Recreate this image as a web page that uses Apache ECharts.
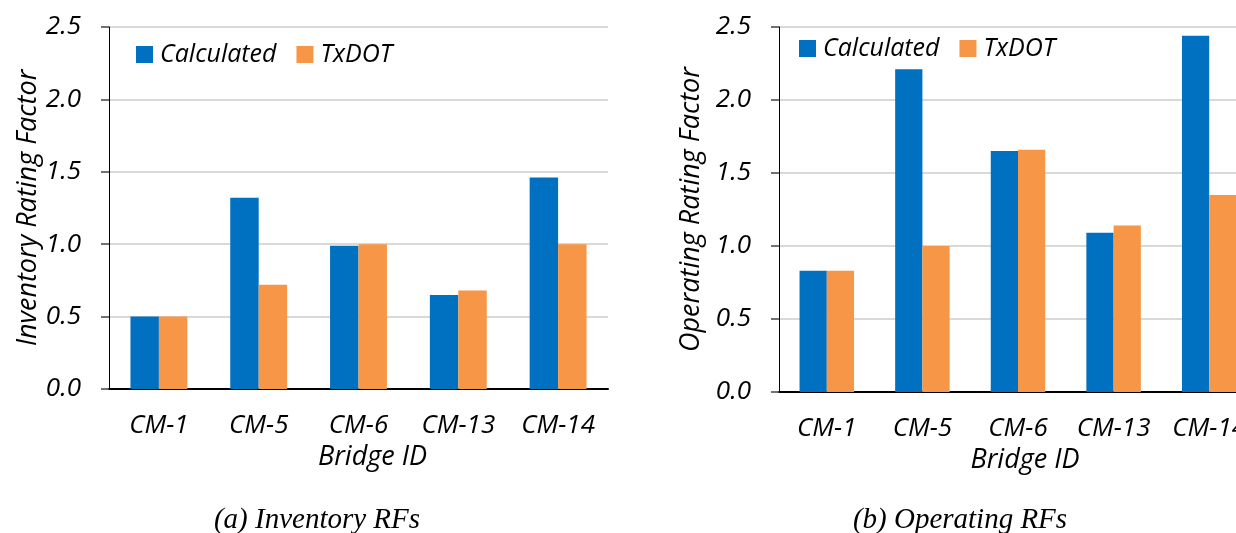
<!DOCTYPE html>
<html><head><meta charset="utf-8">
<script src="https://cdn.jsdelivr.net/npm/echarts@6/dist/echarts.min.js"></script>
<style>html,body{margin:0;padding:0;background:#fff}#c{width:1236px;height:533px}</style>
</head><body><div id="c"></div>
<script>
const categories = ['CM-1','CM-5','CM-6','CM-13','CM-14'];
const inventoryCalculated = [0.50, 1.32, 0.99, 0.65, 1.46];
const inventoryTxDOT      = [0.50, 0.72, 1.00, 0.68, 1.00];
const operatingCalculated = [0.83, 2.21, 1.65, 1.09, 2.44];
const operatingTxDOT      = [0.83, 1.00, 1.66, 1.14, 1.35];

const BLUE = '#0070C0', ORANGE = '#F79646';
const FONT = '"Open Sans"';
const chart = echarts.init(document.getElementById('c'), null, {renderer:'canvas'});
function yAxis(idx, name, gap){
  return {
    type:'value', gridIndex:idx, min:0, max:2.5, interval:0.5,
    name:name, nameLocation:'middle', nameGap:gap,
    nameTextStyle:{fontFamily:FONT, fontStyle:'italic', fontSize:27, color:'#000'},
    axisLine:{show:true, lineStyle:{color:'#000', width:1}},
    axisTick:{show:true, inside:false, length:8, lineStyle:{color:'#444', width:1.5}},
    axisLabel:{margin:28, fontFamily:FONT, fontStyle:'italic', fontSize:26, color:'#000',
      formatter:v=>v.toFixed(1)},
    splitLine:{show:true, lineStyle:{color:'#d9d9d9', width:2}}
  };
}
function xAxis(idx, pad, gap){
  return {
    type:'category', gridIndex:idx, data:categories,
    name:'Bridge ID', nameLocation:'middle', nameGap:gap,
    nameTextStyle:{fontFamily:FONT, fontStyle:'italic', fontSize:27, color:'#000', padding:pad},
    axisLine:{show:true, lineStyle:{color:'#000', width:2}},
    axisTick:{show:false},
    axisLabel:{margin:24, fontFamily:FONT, fontStyle:'italic', fontSize:26, color:'#000', interval:0, hideOverlap:false},
    splitLine:{show:false}
  };
}
function bar(name, data, color, idx){
  return {type:'bar', name:name, data:data, xAxisIndex:idx, yAxisIndex:idx,
    barGap:'0%', barCategoryGap:'43%', itemStyle:{color:color}, animation:false};
}
const legendBase = {
  data:['Calculated','TxDOT'], icon:'rect', itemWidth:17, itemHeight:17, itemGap:20,
  textStyle:{fontFamily:FONT, fontStyle:'italic', fontSize:25, color:'#000', padding:[0,0,0,2]},
  selectedMode:false
};
chart.setOption({
  animation:false,
  grid:[
    {left:109, top:27, width:499, height:362, outerBoundsMode:'none', containLabel:false},
    {left:779, top:27, width:478, height:365, outerBoundsMode:'none', containLabel:false}
  ],
  legend:[
    Object.assign({left:131, top:37}, legendBase),
    Object.assign({left:794, top:31}, legendBase)
  ],
  xAxis:[xAxis(0,[0,0,0,28],54), xAxis(1,[0,0,0,14],51)],
  yAxis:[yAxis(0,'Inventory Rating Factor',64), yAxis(1,'Operating Rating Factor',74)],
  series:[
    bar('Calculated', inventoryCalculated, BLUE, 0),
    bar('TxDOT', inventoryTxDOT, ORANGE, 0),
    bar('Calculated', operatingCalculated, BLUE, 1),
    bar('TxDOT', operatingTxDOT, ORANGE, 1)
  ],
  graphic:[
    {type:'text', style:{x:317, y:520, text:'(a) Inventory RFs', font:'italic 29px "Liberation Serif"', fill:'#000', align:'center', verticalAlign:'middle'}},
    {type:'text', style:{x:960, y:520, text:'(b) Operating RFs', font:'italic 29px "Liberation Serif"', fill:'#000', align:'center', verticalAlign:'middle'}}
  ]
});
</script></body></html>
